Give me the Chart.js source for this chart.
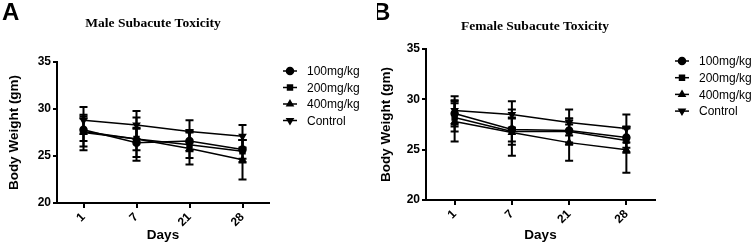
<!DOCTYPE html>
<html>
<head>
<meta charset="utf-8">
<script src="https://cdn.jsdelivr.net/npm/chart.js@4/dist/chart.umd.min.js"></script>
<style>
  html, body { margin: 0; padding: 0; background: #fff; }
  .panel { position: absolute; top: 0; width: 377px; height: 244px; }
  #panelA { left: 0; }
  #panelB { left: 377px; }
</style>
</head>
<body>
<div class="panel" id="panelA"><canvas id="chartA" width="377" height="244"></canvas></div>
<div class="panel" id="panelB"><canvas id="chartB" width="377" height="244"></canvas></div>
<script>
// Days on the x axis
const days = ['1', '7', '21', '28'];
const groupLabels = ['100mg/kg', '200mg/kg', '400mg/kg', 'Control'];
const yTicks = [20, 25, 30, 35];

// Male body weights (mean, error)
const male100 = [27.8, 26.4, 26.6, 25.7];
const male100Err = [1.2, 1.5, 1.1, 1.0];
const male200 = [27.6, 26.8, 26.2, 25.5];
const male200Err = [1.6, 1.2, 1.4, 1.2];
const male400 = [27.5, 26.8, 25.8, 24.6];
const male400Err = [1.9, 2.3, 1.7, 2.1];
const maleControl = [28.8, 28.3, 27.6, 27.1];
const maleControlErr = [1.4, 1.5, 1.2, 1.2];

// Female body weights (mean, error)
const female100 = [28.6, 27.0, 26.9, 26.2];
const female100Err = [1.3, 1.2, 1.2, 1.0];
const female200 = [28.2, 26.8, 26.8, 25.9];
const female200Err = [1.4, 1.3, 1.3, 1.2];
const female400 = [27.8, 26.7, 25.7, 25.0];
const female400Err = [2.0, 2.3, 1.8, 2.3];
const femaleControl = [28.9, 28.5, 27.7, 27.1];
const femaleControlErr = [1.4, 1.3, 1.3, 1.4];

const markerStyles = [
  { pointStyle: 'circle', rotation: 0 },
  { pointStyle: 'rect', rotation: 0 },
  { pointStyle: 'triangle', rotation: 0 },
  { pointStyle: 'triangle', rotation: 180 }
];

const sansFamily = '"Liberation Sans", Arial, sans-serif';
const serifFamily = '"Liberation Serif", "Times New Roman", serif';

// Error bars drawn through the chart's own y scale
const errorBarPlugin = {
  id: 'errorBars',
  afterDatasetsDraw(chart) {
    const ctx = chart.ctx;
    const yScale = chart.scales.y;
    ctx.save();
    ctx.strokeStyle = '#000';
    ctx.lineWidth = 2;
    chart.data.datasets.forEach((ds, di) => {
      const meta = chart.getDatasetMeta(di);
      meta.data.forEach((pt, i) => {
        const v = ds.data[i];
        const e = ds.errorBars[i];
        const yTop = yScale.getPixelForValue(v + e);
        const yBot = yScale.getPixelForValue(v - e);
        ctx.beginPath();
        ctx.moveTo(pt.x, yTop);
        ctx.lineTo(pt.x, yBot);
        ctx.moveTo(pt.x - 4, yTop);
        ctx.lineTo(pt.x + 4, yTop);
        ctx.moveTo(pt.x - 4, yBot);
        ctx.lineTo(pt.x + 4, yBot);
        ctx.stroke();
      });
    });
    ctx.restore();
  }
};

// Panel letter, serif title and GraphPad-like legend
const decorPlugin = {
  id: 'panelDecor',
  afterDraw(chart, args, opts) {
    const ctx = chart.ctx;
    ctx.save();
    ctx.fillStyle = '#000';
    ctx.strokeStyle = '#000';

    ctx.font = 'bold 24px ' + sansFamily;
    ctx.textAlign = 'left';
    ctx.textBaseline = 'alphabetic';
    ctx.fillText(opts.letter, opts.letterX, 20);

    ctx.font = 'bold 13.5px ' + serifFamily;
    ctx.textAlign = 'center';
    ctx.textBaseline = 'middle';
    ctx.fillText(opts.title, opts.titleX, opts.titleY);

    ctx.font = '12px ' + sansFamily;
    ctx.textAlign = 'left';
    chart.data.datasets.forEach((ds, i) => {
      const y = opts.legendY + i * opts.legendGap;
      ctx.lineWidth = 1.5;
      ctx.beginPath();
      ctx.moveTo(opts.legendX, y);
      ctx.lineTo(opts.legendX + 14, y);
      ctx.stroke();
      Chart.helpers.drawPoint(ctx, {
        pointStyle: ds.pointStyle,
        rotation: ds.rotation,
        radius: 3.5,
        borderWidth: 1
      }, opts.legendX + 7, y);
      ctx.fillText(ds.label, opts.legendX + 24, y + 1);
    });
    ctx.restore();
  }
};

function buildDatasets(means, errs) {
  return means.map((m, i) => ({
    label: groupLabels[i],
    data: m,
    errorBars: errs[i],
    borderColor: '#000',
    backgroundColor: '#000',
    borderWidth: 1.5,
    pointStyle: markerStyles[i].pointStyle,
    rotation: markerStyles[i].rotation,
    pointRadius: 3.5,
    pointBackgroundColor: '#000',
    pointBorderColor: '#000',
    tension: 0,
    fill: false
  }));
}

function renderPanel(canvasId, config) {
  const canvas = document.getElementById(canvasId);
  return new Chart(canvas, {
    type: 'line',
    data: {
      labels: days,
      datasets: buildDatasets(config.means, config.errs)
    },
    plugins: [errorBarPlugin, decorPlugin],
    options: {
      responsive: false,
      animation: false,
      events: [],
      layout: {
        padding: { left: 0, top: config.top, right: config.right, bottom: 0 }
      },
      plugins: {
        legend: { display: false },
        title: { display: false },
        tooltip: { enabled: false },
        panelDecor: config.decor
      },
      scales: {
        x: {
          type: 'category',
          offset: true,
          afterFit(scale) { scale.height = config.xHeight; },
          grid: {
            drawOnChartArea: false,
            offset: false,
            color: '#000',
            lineWidth: 2,
            tickLength: 5
          },
          border: { color: '#000', width: 2 },
          ticks: {
            color: '#000',
            minRotation: 45,
            maxRotation: 45,
            padding: 2,
            font: { family: sansFamily, size: 12, weight: 'bold' }
          },
          title: {
            display: true,
            text: 'Days',
            color: '#000',
            padding: { top: 0, bottom: 1 },
            font: { family: sansFamily, size: 13.5, weight: 'bold' }
          }
        },
        y: {
          min: 20,
          max: 35,
          afterFit(scale) { scale.width = config.yWidth; },
          afterBuildTicks(scale) { scale.ticks = yTicks.map(v => ({ value: v })); },
          grid: {
            drawOnChartArea: false,
            color: '#000',
            lineWidth: 2,
            tickLength: 4
          },
          border: { color: '#000', width: 2 },
          ticks: {
            color: '#000',
            padding: 2,
            font: { family: sansFamily, size: 12, weight: 'bold' }
          },
          title: {
            display: true,
            text: 'Body Weight (gm)',
            color: '#000',
            padding: { top: config.yTitlePad, bottom: 0 },
            font: { family: sansFamily, size: 13.5, weight: 'bold' }
          }
        }
      }
    }
  });
}

renderPanel('chartA', {
  means: [male100, male200, male400, maleControl],
  errs: [male100Err, male200Err, male400Err, maleControlErr],
  top: 62,
  right: 108,
  xHeight: 41,
  yWidth: 57,
  yTitlePad: 6,
  decor: {
    letter: 'A', letterX: 2,
    title: 'Male Subacute Toxicity', titleX: 153, titleY: 24,
    legendX: 283, legendY: 71, legendGap: 16.5
  }
});

renderPanel('chartB', {
  means: [female100, female200, female400, femaleControl],
  errs: [female100Err, female200Err, female400Err, femaleControlErr],
  top: 49,
  right: 99,
  xHeight: 44,
  yWidth: 49,
  yTitlePad: 1,
  decor: {
    letter: 'B', letterX: -4,
    title: 'Female Subacute Toxicity', titleX: 158, titleY: 27,
    legendX: 298, legendY: 61, legendGap: 16.7
  }
});
</script>
</body>
</html>
